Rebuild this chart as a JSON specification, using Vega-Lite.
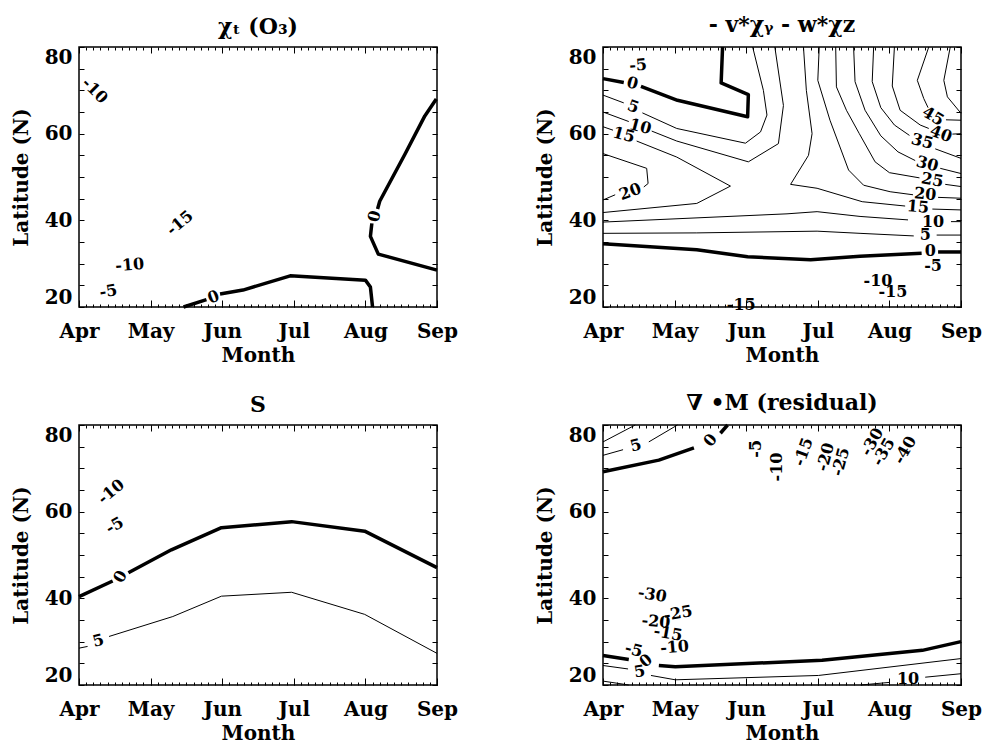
{
"$schema": "https://vega.github.io/schema/vega-lite/v6.json",
"background": "white",
"padding": {"left": 10, "top": 13, "right": 2, "bottom": 2},
"columns": 2,
"spacing": {"row": 25, "column": 75},
"datasets": {
"ln": [
{"p":1,"s":"a","v":0,"i":0,"m":5.46,"lat":20},{"p":1,"s":"a","v":0,"i":1,"m":5.78,"lat":21.7},
{"p":1,"s":"b","v":0,"i":0,"m":5.97,"lat":23.0},{"p":1,"s":"b","v":0,"i":1,"m":6.29,"lat":23.9},{"p":1,"s":"b","v":0,"i":2,"m":6.95,"lat":27.2},{"p":1,"s":"b","v":0,"i":3,"m":8.0,"lat":26.2},{"p":1,"s":"b","v":0,"i":4,"m":8.07,"lat":24.6},{"p":1,"s":"b","v":0,"i":5,"m":8.1,"lat":20},
{"p":1,"s":"c","v":0,"i":0,"m":8.99,"lat":68.0},{"p":1,"s":"c","v":0,"i":1,"m":8.83,"lat":64.1},{"p":1,"s":"c","v":0,"i":2,"m":8.55,"lat":55.2},{"p":1,"s":"c","v":0,"i":3,"m":8.2,"lat":44.4},{"p":1,"s":"c","v":0,"i":4,"m":8.17,"lat":42.6},
{"p":1,"s":"d","v":0,"i":0,"m":8.09,"lat":39.3},{"p":1,"s":"d","v":0,"i":1,"m":8.07,"lat":36.3},{"p":1,"s":"d","v":0,"i":2,"m":8.18,"lat":32.2},{"p":1,"s":"d","v":0,"i":3,"m":9.0,"lat":28.5},

{"p":2,"s":"a","v":0,"i":0,"m":4.0,"lat":72.7},{"p":2,"s":"a","v":0,"i":1,"m":4.29,"lat":71.8},
{"p":2,"s":"b","v":0,"i":0,"m":4.53,"lat":70.9},{"p":2,"s":"b","v":0,"i":1,"m":5.04,"lat":67.7},{"p":2,"s":"b","v":0,"i":2,"m":6.02,"lat":63.9},{"p":2,"s":"b","v":0,"i":3,"m":6.03,"lat":69.0},{"p":2,"s":"b","v":0,"i":4,"m":5.65,"lat":71.7},{"p":2,"s":"b","v":0,"i":5,"m":5.67,"lat":80},
{"p":2,"s":"c","v":0,"i":0,"m":4.0,"lat":34.6},{"p":2,"s":"c","v":0,"i":1,"m":5.31,"lat":33.2},{"p":2,"s":"c","v":0,"i":2,"m":6.02,"lat":31.6},{"p":2,"s":"c","v":0,"i":3,"m":6.9,"lat":30.9},{"p":2,"s":"c","v":0,"i":4,"m":7.59,"lat":31.7},{"p":2,"s":"c","v":0,"i":5,"m":8.45,"lat":32.4},
{"p":2,"s":"d","v":0,"i":0,"m":8.68,"lat":32.7},{"p":2,"s":"d","v":0,"i":1,"m":9.0,"lat":32.7},
{"p":2,"s":"e","v":5,"i":0,"m":4.0,"lat":68.9},{"p":2,"s":"e","v":5,"i":1,"m":4.29,"lat":67.1},
{"p":2,"s":"f","v":5,"i":0,"m":4.55,"lat":64.8},{"p":2,"s":"f","v":5,"i":1,"m":5.03,"lat":61.2},{"p":2,"s":"f","v":5,"i":2,"m":5.99,"lat":57.8},{"p":2,"s":"f","v":5,"i":3,"m":6.2,"lat":60.4},{"p":2,"s":"f","v":5,"i":4,"m":6.29,"lat":64.3},{"p":2,"s":"f","v":5,"i":5,"m":6.24,"lat":70.0},{"p":2,"s":"f","v":5,"i":6,"m":6.09,"lat":80},
{"p":2,"s":"g","v":10,"i":0,"m":4.0,"lat":65.0},{"p":2,"s":"g","v":10,"i":1,"m":4.36,"lat":62.8},
{"p":2,"s":"h","v":10,"i":0,"m":4.68,"lat":60.6},{"p":2,"s":"h","v":10,"i":1,"m":5.03,"lat":58.3},{"p":2,"s":"h","v":10,"i":2,"m":6.03,"lat":53.5},{"p":2,"s":"h","v":10,"i":3,"m":6.45,"lat":57.7},{"p":2,"s":"h","v":10,"i":4,"m":6.52,"lat":66.5},{"p":2,"s":"h","v":10,"i":5,"m":6.4,"lat":80},
{"p":2,"s":"i","v":15,"i":0,"m":4.0,"lat":61.6},{"p":2,"s":"i","v":15,"i":1,"m":4.14,"lat":60.8},
{"p":2,"s":"j","v":15,"i":0,"m":4.47,"lat":58.3},{"p":2,"s":"j","v":15,"i":1,"m":5.03,"lat":54.6},{"p":2,"s":"j","v":15,"i":2,"m":5.78,"lat":47.9},{"p":2,"s":"j","v":15,"i":3,"m":5.31,"lat":43.9},{"p":2,"s":"j","v":15,"i":4,"m":4.0,"lat":41.8},
{"p":2,"s":"k","v":20,"i":0,"m":4.0,"lat":55.4},{"p":2,"s":"k","v":20,"i":1,"m":4.61,"lat":52.0},{"p":2,"s":"k","v":20,"i":2,"m":4.63,"lat":48.5},{"p":2,"s":"k","v":20,"i":3,"m":4.57,"lat":47.7},
{"p":2,"s":"l","v":20,"i":0,"m":4.17,"lat":45.9},{"p":2,"s":"l","v":20,"i":1,"m":4.0,"lat":44.7},
{"p":2,"s":"m","v":15,"i":0,"m":6.8,"lat":80},{"p":2,"s":"m","v":15,"i":1,"m":6.84,"lat":70},{"p":2,"s":"m","v":15,"i":2,"m":6.92,"lat":60},{"p":2,"s":"m","v":15,"i":3,"m":6.87,"lat":55},{"p":2,"s":"m","v":15,"i":4,"m":6.62,"lat":48.3},{"p":2,"s":"m","v":15,"i":5,"m":6.99,"lat":47.4},{"p":2,"s":"m","v":15,"i":6,"m":7.62,"lat":44.3},{"p":2,"s":"m","v":15,"i":7,"m":8.22,"lat":43.3},
{"p":2,"s":"n","v":15,"i":0,"m":8.6,"lat":42.6},{"p":2,"s":"n","v":15,"i":1,"m":9.0,"lat":42.4},
{"p":2,"s":"o","v":20,"i":0,"m":7.02,"lat":80},{"p":2,"s":"o","v":20,"i":1,"m":7.0,"lat":72.3},{"p":2,"s":"o","v":20,"i":2,"m":7.17,"lat":63.1},{"p":2,"s":"o","v":20,"i":3,"m":7.43,"lat":51.6},{"p":2,"s":"o","v":20,"i":4,"m":7.64,"lat":48.1},{"p":2,"s":"o","v":20,"i":5,"m":8.01,"lat":46.6},{"p":2,"s":"o","v":20,"i":6,"m":8.33,"lat":45.9},
{"p":2,"s":"p","v":20,"i":0,"m":8.68,"lat":45.3},{"p":2,"s":"p","v":20,"i":1,"m":9.0,"lat":45.1},
{"p":2,"s":"q","v":25,"i":0,"m":7.25,"lat":80},{"p":2,"s":"q","v":25,"i":1,"m":7.26,"lat":70.8},{"p":2,"s":"q","v":25,"i":2,"m":7.4,"lat":65.4},{"p":2,"s":"q","v":25,"i":3,"m":7.58,"lat":60.0},{"p":2,"s":"q","v":25,"i":4,"m":7.8,"lat":53.5},{"p":2,"s":"q","v":25,"i":5,"m":8.0,"lat":51.0},{"p":2,"s":"q","v":25,"i":6,"m":8.42,"lat":49.8},
{"p":2,"s":"r","v":25,"i":0,"m":8.78,"lat":48.3},{"p":2,"s":"r","v":25,"i":1,"m":9.0,"lat":47.8},
{"p":2,"s":"s","v":30,"i":0,"m":7.5,"lat":80},{"p":2,"s":"s","v":30,"i":1,"m":7.52,"lat":72},{"p":2,"s":"s","v":30,"i":2,"m":7.66,"lat":65.4},{"p":2,"s":"s","v":30,"i":3,"m":7.88,"lat":59.5},{"p":2,"s":"s","v":30,"i":4,"m":8.12,"lat":55.8},{"p":2,"s":"s","v":30,"i":5,"m":8.36,"lat":53.8},
{"p":2,"s":"t","v":30,"i":0,"m":8.71,"lat":52.0},{"p":2,"s":"t","v":30,"i":1,"m":9.0,"lat":50.8},
{"p":2,"s":"u","v":35,"i":0,"m":7.78,"lat":80},{"p":2,"s":"u","v":35,"i":1,"m":7.76,"lat":72},{"p":2,"s":"u","v":35,"i":2,"m":7.88,"lat":66},{"p":2,"s":"u","v":35,"i":3,"m":8.07,"lat":62},{"p":2,"s":"u","v":35,"i":4,"m":8.28,"lat":59.6},
{"p":2,"s":"w","v":35,"i":0,"m":8.64,"lat":56.5},{"p":2,"s":"w","v":35,"i":1,"m":9.0,"lat":54.3},
{"p":2,"s":"x","v":40,"i":0,"m":8.07,"lat":80},{"p":2,"s":"x","v":40,"i":1,"m":8.04,"lat":71},{"p":2,"s":"x","v":40,"i":2,"m":8.15,"lat":65.4},{"p":2,"s":"x","v":40,"i":3,"m":8.43,"lat":62.0},{"p":2,"s":"x","v":40,"i":4,"m":8.55,"lat":61.2},
{"p":2,"s":"y","v":40,"i":0,"m":8.88,"lat":59.9},{"p":2,"s":"y","v":40,"i":1,"m":9.0,"lat":60.0},
{"p":2,"s":"z","v":45,"i":0,"m":8.55,"lat":80},{"p":2,"s":"z","v":45,"i":1,"m":8.39,"lat":72.3},{"p":2,"s":"z","v":45,"i":2,"m":8.48,"lat":68.1},{"p":2,"s":"z","v":45,"i":3,"m":8.54,"lat":66.0},
{"p":2,"s":"za","v":45,"i":0,"m":8.79,"lat":63.2},{"p":2,"s":"za","v":45,"i":1,"m":9.0,"lat":63.1},
{"p":2,"s":"zb","v":50,"i":0,"m":8.85,"lat":80},{"p":2,"s":"zb","v":50,"i":1,"m":8.76,"lat":72.3},{"p":2,"s":"zb","v":50,"i":2,"m":8.81,"lat":68.5},{"p":2,"s":"zb","v":50,"i":3,"m":9.0,"lat":64.7},
{"p":2,"s":"zc","v":10,"i":0,"m":4.0,"lat":39.6},{"p":2,"s":"zc","v":10,"i":1,"m":6.57,"lat":41.5},{"p":2,"s":"zc","v":10,"i":2,"m":6.99,"lat":42.0},{"p":2,"s":"zc","v":10,"i":3,"m":7.59,"lat":40.9},{"p":2,"s":"zc","v":10,"i":4,"m":8.26,"lat":40.1},
{"p":2,"s":"zd","v":10,"i":0,"m":8.86,"lat":39.7},{"p":2,"s":"zd","v":10,"i":1,"m":9.0,"lat":39.7},
{"p":2,"s":"ze","v":5,"i":0,"m":4.0,"lat":37.0},{"p":2,"s":"ze","v":5,"i":1,"m":5.31,"lat":37.1},{"p":2,"s":"ze","v":5,"i":2,"m":6.99,"lat":37.5},{"p":2,"s":"ze","v":5,"i":3,"m":7.59,"lat":37.0},{"p":2,"s":"ze","v":5,"i":4,"m":8.34,"lat":36.4},
{"p":2,"s":"zf","v":5,"i":0,"m":8.66,"lat":36.6},{"p":2,"s":"zf","v":5,"i":1,"m":9.0,"lat":36.6},

{"p":3,"s":"a","v":0,"i":0,"m":4.0,"lat":40.4},{"p":3,"s":"a","v":0,"i":1,"m":4.47,"lat":44.0},
{"p":3,"s":"b","v":0,"i":0,"m":4.69,"lat":45.9},{"p":3,"s":"b","v":0,"i":1,"m":5.29,"lat":51.2},{"p":3,"s":"b","v":0,"i":2,"m":5.99,"lat":56.3},{"p":3,"s":"b","v":0,"i":3,"m":6.97,"lat":57.7},{"p":3,"s":"b","v":0,"i":4,"m":7.99,"lat":55.5},{"p":3,"s":"b","v":0,"i":5,"m":9.0,"lat":47.1},
{"p":3,"s":"c","v":5,"i":0,"m":4.0,"lat":28.5},{"p":3,"s":"c","v":5,"i":1,"m":4.12,"lat":28.9},
{"p":3,"s":"d","v":5,"i":0,"m":4.42,"lat":31.2},{"p":3,"s":"d","v":5,"i":1,"m":5.31,"lat":35.8},{"p":3,"s":"d","v":5,"i":2,"m":5.99,"lat":40.5},{"p":3,"s":"d","v":5,"i":3,"m":6.97,"lat":41.4},{"p":3,"s":"d","v":5,"i":4,"m":7.99,"lat":36.3},{"p":3,"s":"d","v":5,"i":5,"m":9.0,"lat":27.3},

{"p":4,"s":"a","v":0,"i":0,"m":4.0,"lat":69.2},{"p":4,"s":"a","v":0,"i":1,"m":4.78,"lat":71.9},{"p":4,"s":"a","v":0,"i":2,"m":5.27,"lat":74.7},
{"p":4,"s":"b","v":0,"i":0,"m":5.64,"lat":78.1},{"p":4,"s":"b","v":0,"i":1,"m":5.74,"lat":80},
{"p":4,"s":"c","v":5,"i":0,"m":4.0,"lat":73.0},{"p":4,"s":"c","v":5,"i":1,"m":4.28,"lat":74.3},
{"p":4,"s":"d","v":5,"i":0,"m":4.64,"lat":76.1},{"p":4,"s":"d","v":5,"i":1,"m":5.04,"lat":80},
{"p":4,"s":"e","v":10,"i":0,"m":4.0,"lat":76.1},{"p":4,"s":"e","v":10,"i":1,"m":4.45,"lat":80},
{"p":4,"s":"f","v":0,"i":0,"m":4.0,"lat":26.8},{"p":4,"s":"f","v":0,"i":1,"m":4.36,"lat":25.9},
{"p":4,"s":"g","v":0,"i":0,"m":4.78,"lat":24.5},{"p":4,"s":"g","v":0,"i":1,"m":5.01,"lat":24.2},{"p":4,"s":"g","v":0,"i":2,"m":7.06,"lat":25.7},{"p":4,"s":"g","v":0,"i":3,"m":8.46,"lat":28.0},{"p":4,"s":"g","v":0,"i":4,"m":9.0,"lat":30.0},
{"p":4,"s":"h","v":5,"i":0,"m":4.0,"lat":24.5},{"p":4,"s":"h","v":5,"i":1,"m":4.35,"lat":23.7},
{"p":4,"s":"k","v":5,"i":0,"m":4.67,"lat":22.2},{"p":4,"s":"k","v":5,"i":1,"m":5.01,"lat":21.2},{"p":4,"s":"k","v":5,"i":2,"m":7.01,"lat":22.2},{"p":4,"s":"k","v":5,"i":3,"m":9.0,"lat":26.1},
{"p":4,"s":"l","v":10,"i":0,"m":4.0,"lat":20.9},{"p":4,"s":"l","v":10,"i":1,"m":4.36,"lat":20},
{"p":4,"s":"n","v":10,"i":0,"m":7.6,"lat":20},{"p":4,"s":"n","v":10,"i":1,"m":8.0,"lat":20.6},
{"p":4,"s":"o","v":10,"i":0,"m":8.5,"lat":21.8},{"p":4,"s":"o","v":10,"i":1,"m":9.0,"lat":22.6}
],
"lb": [
{"p":1,"t":"-10","m":4.22,"lat":69.9,"r":45},{"p":1,"t":"-15","m":5.41,"lat":39.4,"r":-40},{"p":1,"t":"-10","m":4.71,"lat":29.7,"r":-5},{"p":1,"t":"-5","m":4.41,"lat":23.6,"r":-10},{"p":1,"t":"0","m":5.88,"lat":22.3,"r":-20},{"p":1,"t":"0","m":8.13,"lat":40.9,"r":-75},
{"p":2,"t":"-5","m":4.49,"lat":75.8,"r":-5},{"p":2,"t":"0","m":4.41,"lat":71.6,"r":15},{"p":2,"t":"5","m":4.42,"lat":66.2,"r":20},{"p":2,"t":"10","m":4.52,"lat":61.6,"r":15},{"p":2,"t":"15","m":4.29,"lat":59.7,"r":15},{"p":2,"t":"20","m":4.38,"lat":46.6,"r":-20},
{"p":2,"t":"45","m":8.61,"lat":64.0,"r":30},{"p":2,"t":"40","m":8.72,"lat":59.9,"r":20},{"p":2,"t":"35","m":8.46,"lat":58.2,"r":15},{"p":2,"t":"30","m":8.53,"lat":53.0,"r":15},{"p":2,"t":"25","m":8.6,"lat":49.3,"r":10},{"p":2,"t":"20","m":8.5,"lat":46.0,"r":5},{"p":2,"t":"15","m":8.4,"lat":43.1,"r":5},{"p":2,"t":"10","m":8.61,"lat":39.7,"r":0},{"p":2,"t":"5","m":8.5,"lat":36.6,"r":0},{"p":2,"t":"0","m":8.57,"lat":33.0,"r":0},{"p":2,"t":"-5","m":8.61,"lat":29.4,"r":0},{"p":2,"t":"-10","m":7.84,"lat":25.9,"r":0},{"p":2,"t":"-15","m":8.05,"lat":23.4,"r":0},{"p":2,"t":"-15","m":5.93,"lat":20.5,"r":0},
{"p":3,"t":"-10","m":4.45,"lat":64.6,"r":-40},{"p":3,"t":"-5","m":4.5,"lat":56.8,"r":-30},{"p":3,"t":"0","m":4.58,"lat":45.0,"r":-60},{"p":3,"t":"5","m":4.27,"lat":30.2,"r":-15},
{"p":4,"t":"5","m":4.46,"lat":75.3,"r":-15},{"p":4,"t":"0","m":5.5,"lat":76.5,"r":-50},{"p":4,"t":"-5","m":6.13,"lat":74.5,"r":-90},{"p":4,"t":"-10","m":6.43,"lat":70.3,"r":-90},{"p":4,"t":"-15","m":6.8,"lat":73.8,"r":-70},{"p":4,"t":"-20","m":7.11,"lat":72.6,"r":-75},{"p":4,"t":"-25","m":7.32,"lat":71.5,"r":-75},{"p":4,"t":"-30","m":7.76,"lat":76.1,"r":-60},{"p":4,"t":"-35","m":7.92,"lat":73.8,"r":-60},{"p":4,"t":"-40","m":8.22,"lat":74.2,"r":-60},
{"p":4,"t":"-30","m":4.69,"lat":40.8,"r":10},{"p":4,"t":"-25","m":5.05,"lat":36.5,"r":-10},{"p":4,"t":"-20","m":4.74,"lat":34.6,"r":5},{"p":4,"t":"-15","m":4.91,"lat":31.9,"r":10},{"p":4,"t":"-10","m":5.0,"lat":28.7,"r":-5},{"p":4,"t":"-5","m":4.43,"lat":28.1,"r":15},{"p":4,"t":"0","m":4.6,"lat":25.6,"r":-40},{"p":4,"t":"5","m":4.51,"lat":23.1,"r":-10},{"p":4,"t":"10","m":8.26,"lat":21.5,"r":0}
]
},
"concat": [
{"title": "χₜ (O₃)", "width": 358, "height": 260,
 "layer": [
  {"data": {"name": "ln"}, "transform": [{"filter": "datum.p === 1"}],
   "mark": {"type": "line", "color": "black", "strokeJoin": "round"},
   "encoding": {
    "x": {"field": "m", "type": "quantitative", "scale": {"domain": [4, 9], "nice": false, "zero": false}, "axis": {"values": [4,5,6,7,8,9], "labelExpr": "['Apr','May','Jun','Jul','Aug','Sep'][round(datum.value)-4]", "labelFlush": false, "ticks": false, "labelPadding": 14, "title": "Month", "titlePadding": 4}},
    "y": {"field": "lat", "type": "quantitative", "scale": {"domain": [20, 80], "nice": false, "zero": false}, "axis": {"values": [20,40,60,80], "ticks": false, "labelPadding": 7, "labelFlush": true, "title": "Latitude (N)", "titlePadding": 13}},
    "detail": {"field": "s"}, "order": {"field": "i"},
    "strokeWidth": {"condition": {"test": "datum.v === 0", "value": 3.5}, "value": 1}}},
  {"data": {"name": "lb"}, "transform": [{"filter": "datum.p === 1"}],
   "mark": {"type": "text", "font": "DejaVu Serif", "fontWeight": "bold", "fontSize": 16, "color": "black"},
   "encoding": {
    "x": {"field": "m", "type": "quantitative", "scale": {"domain": [4, 9], "nice": false, "zero": false}, "axis": {"orient": "bottom", "values": [4,5,6,7,8,9], "labels": false, "tickSize": -7, "title": null}},
    "y": {"field": "lat", "type": "quantitative", "scale": {"domain": [20, 80], "nice": false, "zero": false}, "axis": {"orient": "left", "values": [20,25,30,35,40,45,50,55,60,65,70,75,80], "labels": false, "tickSize": -5, "title": null}},
    "text": {"field": "t"}, "angle": {"field": "r", "type": "quantitative", "scale": null}}},
  {"data": {"name": "lb"}, "transform": [{"filter": "datum.p === 1"}],
   "mark": {"type": "point", "opacity": 0},
   "encoding": {
    "x": {"field": "m", "type": "quantitative", "scale": {"domain": [4, 9], "nice": false, "zero": false}, "axis": {"orient": "top", "values": [4,4.1,4.2,4.3,4.4,4.5,4.6,4.7,4.8,4.9,5,5.1,5.2,5.3,5.4,5.5,5.6,5.7,5.8,5.9,6,6.1,6.2,6.3,6.4,6.5,6.6,6.7,6.8,6.9,7,7.1,7.2,7.3,7.4,7.5,7.6,7.7,7.8,7.9,8,8.1,8.2,8.3,8.4,8.5,8.6,8.7,8.8,8.9,9], "labels": false, "tickSize": -3, "title": null}},
    "y": {"field": "lat", "type": "quantitative", "scale": {"domain": [20, 80], "nice": false, "zero": false}, "axis": {"orient": "right", "values": [20,25,30,35,40,45,50,55,60,65,70,75,80], "labels": false, "tickSize": -5, "title": null}}}},
  {"data": {"name": "lb"}, "transform": [{"filter": "datum.p === 1"}],
   "mark": {"type": "point", "opacity": 0},
   "encoding": {
    "x": {"field": "m", "type": "quantitative", "scale": {"domain": [4, 9], "nice": false, "zero": false}, "axis": {"orient": "bottom", "values": [4,4.1,4.2,4.3,4.4,4.5,4.6,4.7,4.8,4.9,5,5.1,5.2,5.3,5.4,5.5,5.6,5.7,5.8,5.9,6,6.1,6.2,6.3,6.4,6.5,6.6,6.7,6.8,6.9,7,7.1,7.2,7.3,7.4,7.5,7.6,7.7,7.8,7.9,8,8.1,8.2,8.3,8.4,8.5,8.6,8.7,8.8,8.9,9], "labels": false, "tickSize": -3, "title": null}},
    "y": {"field": "lat", "type": "quantitative", "scale": {"domain": [20, 80], "nice": false, "zero": false}, "axis": null}}},
  {"data": {"name": "lb"}, "transform": [{"filter": "datum.p === 1"}],
   "mark": {"type": "point", "opacity": 0},
   "encoding": {
    "x": {"field": "m", "type": "quantitative", "scale": {"domain": [4, 9], "nice": false, "zero": false}, "axis": {"orient": "top", "values": [4,5,6,7,8,9], "labels": false, "tickSize": -6, "title": null}},
    "y": {"field": "lat", "type": "quantitative", "scale": {"domain": [20, 80], "nice": false, "zero": false}, "axis": null}}}
 ],
 "resolve": {"axis": {"x": "independent", "y": "independent"}}},
{"title": "- v*χᵧ - w*χz", "width": 358, "height": 260,
 "layer": [
  {"data": {"name": "ln"}, "transform": [{"filter": "datum.p === 2"}],
   "mark": {"type": "line", "color": "black", "strokeJoin": "round"},
   "encoding": {
    "x": {"field": "m", "type": "quantitative", "scale": {"domain": [4, 9], "nice": false, "zero": false}, "axis": {"values": [4,5,6,7,8,9], "labelExpr": "['Apr','May','Jun','Jul','Aug','Sep'][round(datum.value)-4]", "labelFlush": false, "ticks": false, "labelPadding": 14, "title": "Month", "titlePadding": 4}},
    "y": {"field": "lat", "type": "quantitative", "scale": {"domain": [20, 80], "nice": false, "zero": false}, "axis": {"values": [20,40,60,80], "ticks": false, "labelPadding": 7, "labelFlush": true, "title": "Latitude (N)", "titlePadding": 13}},
    "detail": {"field": "s"}, "order": {"field": "i"},
    "strokeWidth": {"condition": {"test": "datum.v === 0", "value": 3.5}, "value": 1}}},
  {"data": {"name": "lb"}, "transform": [{"filter": "datum.p === 2"}],
   "mark": {"type": "text", "font": "DejaVu Serif", "fontWeight": "bold", "fontSize": 16, "color": "black"},
   "encoding": {
    "x": {"field": "m", "type": "quantitative", "scale": {"domain": [4, 9], "nice": false, "zero": false}, "axis": {"orient": "bottom", "values": [4,5,6,7,8,9], "labels": false, "tickSize": -7, "title": null}},
    "y": {"field": "lat", "type": "quantitative", "scale": {"domain": [20, 80], "nice": false, "zero": false}, "axis": {"orient": "left", "values": [20,25,30,35,40,45,50,55,60,65,70,75,80], "labels": false, "tickSize": -5, "title": null}},
    "text": {"field": "t"}, "angle": {"field": "r", "type": "quantitative", "scale": null}}},
  {"data": {"name": "lb"}, "transform": [{"filter": "datum.p === 2"}],
   "mark": {"type": "point", "opacity": 0},
   "encoding": {
    "x": {"field": "m", "type": "quantitative", "scale": {"domain": [4, 9], "nice": false, "zero": false}, "axis": {"orient": "top", "values": [4,4.1,4.2,4.3,4.4,4.5,4.6,4.7,4.8,4.9,5,5.1,5.2,5.3,5.4,5.5,5.6,5.7,5.8,5.9,6,6.1,6.2,6.3,6.4,6.5,6.6,6.7,6.8,6.9,7,7.1,7.2,7.3,7.4,7.5,7.6,7.7,7.8,7.9,8,8.1,8.2,8.3,8.4,8.5,8.6,8.7,8.8,8.9,9], "labels": false, "tickSize": -3, "title": null}},
    "y": {"field": "lat", "type": "quantitative", "scale": {"domain": [20, 80], "nice": false, "zero": false}, "axis": {"orient": "right", "values": [20,25,30,35,40,45,50,55,60,65,70,75,80], "labels": false, "tickSize": -5, "title": null}}}},
  {"data": {"name": "lb"}, "transform": [{"filter": "datum.p === 2"}],
   "mark": {"type": "point", "opacity": 0},
   "encoding": {
    "x": {"field": "m", "type": "quantitative", "scale": {"domain": [4, 9], "nice": false, "zero": false}, "axis": {"orient": "bottom", "values": [4,4.1,4.2,4.3,4.4,4.5,4.6,4.7,4.8,4.9,5,5.1,5.2,5.3,5.4,5.5,5.6,5.7,5.8,5.9,6,6.1,6.2,6.3,6.4,6.5,6.6,6.7,6.8,6.9,7,7.1,7.2,7.3,7.4,7.5,7.6,7.7,7.8,7.9,8,8.1,8.2,8.3,8.4,8.5,8.6,8.7,8.8,8.9,9], "labels": false, "tickSize": -3, "title": null}},
    "y": {"field": "lat", "type": "quantitative", "scale": {"domain": [20, 80], "nice": false, "zero": false}, "axis": null}}},
  {"data": {"name": "lb"}, "transform": [{"filter": "datum.p === 2"}],
   "mark": {"type": "point", "opacity": 0},
   "encoding": {
    "x": {"field": "m", "type": "quantitative", "scale": {"domain": [4, 9], "nice": false, "zero": false}, "axis": {"orient": "top", "values": [4,5,6,7,8,9], "labels": false, "tickSize": -6, "title": null}},
    "y": {"field": "lat", "type": "quantitative", "scale": {"domain": [20, 80], "nice": false, "zero": false}, "axis": null}}}
 ],
 "resolve": {"axis": {"x": "independent", "y": "independent"}}},
{"title": "S", "width": 358, "height": 260,
 "layer": [
  {"data": {"name": "ln"}, "transform": [{"filter": "datum.p === 3"}],
   "mark": {"type": "line", "color": "black", "strokeJoin": "round"},
   "encoding": {
    "x": {"field": "m", "type": "quantitative", "scale": {"domain": [4, 9], "nice": false, "zero": false}, "axis": {"values": [4,5,6,7,8,9], "labelExpr": "['Apr','May','Jun','Jul','Aug','Sep'][round(datum.value)-4]", "labelFlush": false, "ticks": false, "labelPadding": 14, "title": "Month", "titlePadding": 4}},
    "y": {"field": "lat", "type": "quantitative", "scale": {"domain": [20, 80], "nice": false, "zero": false}, "axis": {"values": [20,40,60,80], "ticks": false, "labelPadding": 7, "labelFlush": true, "title": "Latitude (N)", "titlePadding": 13}},
    "detail": {"field": "s"}, "order": {"field": "i"},
    "strokeWidth": {"condition": {"test": "datum.v === 0", "value": 3.5}, "value": 1}}},
  {"data": {"name": "lb"}, "transform": [{"filter": "datum.p === 3"}],
   "mark": {"type": "text", "font": "DejaVu Serif", "fontWeight": "bold", "fontSize": 16, "color": "black"},
   "encoding": {
    "x": {"field": "m", "type": "quantitative", "scale": {"domain": [4, 9], "nice": false, "zero": false}, "axis": {"orient": "bottom", "values": [4,5,6,7,8,9], "labels": false, "tickSize": -7, "title": null}},
    "y": {"field": "lat", "type": "quantitative", "scale": {"domain": [20, 80], "nice": false, "zero": false}, "axis": {"orient": "left", "values": [20,25,30,35,40,45,50,55,60,65,70,75,80], "labels": false, "tickSize": -5, "title": null}},
    "text": {"field": "t"}, "angle": {"field": "r", "type": "quantitative", "scale": null}}},
  {"data": {"name": "lb"}, "transform": [{"filter": "datum.p === 3"}],
   "mark": {"type": "point", "opacity": 0},
   "encoding": {
    "x": {"field": "m", "type": "quantitative", "scale": {"domain": [4, 9], "nice": false, "zero": false}, "axis": {"orient": "top", "values": [4,4.1,4.2,4.3,4.4,4.5,4.6,4.7,4.8,4.9,5,5.1,5.2,5.3,5.4,5.5,5.6,5.7,5.8,5.9,6,6.1,6.2,6.3,6.4,6.5,6.6,6.7,6.8,6.9,7,7.1,7.2,7.3,7.4,7.5,7.6,7.7,7.8,7.9,8,8.1,8.2,8.3,8.4,8.5,8.6,8.7,8.8,8.9,9], "labels": false, "tickSize": -3, "title": null}},
    "y": {"field": "lat", "type": "quantitative", "scale": {"domain": [20, 80], "nice": false, "zero": false}, "axis": {"orient": "right", "values": [20,25,30,35,40,45,50,55,60,65,70,75,80], "labels": false, "tickSize": -5, "title": null}}}},
  {"data": {"name": "lb"}, "transform": [{"filter": "datum.p === 3"}],
   "mark": {"type": "point", "opacity": 0},
   "encoding": {
    "x": {"field": "m", "type": "quantitative", "scale": {"domain": [4, 9], "nice": false, "zero": false}, "axis": {"orient": "bottom", "values": [4,4.1,4.2,4.3,4.4,4.5,4.6,4.7,4.8,4.9,5,5.1,5.2,5.3,5.4,5.5,5.6,5.7,5.8,5.9,6,6.1,6.2,6.3,6.4,6.5,6.6,6.7,6.8,6.9,7,7.1,7.2,7.3,7.4,7.5,7.6,7.7,7.8,7.9,8,8.1,8.2,8.3,8.4,8.5,8.6,8.7,8.8,8.9,9], "labels": false, "tickSize": -3, "title": null}},
    "y": {"field": "lat", "type": "quantitative", "scale": {"domain": [20, 80], "nice": false, "zero": false}, "axis": null}}},
  {"data": {"name": "lb"}, "transform": [{"filter": "datum.p === 3"}],
   "mark": {"type": "point", "opacity": 0},
   "encoding": {
    "x": {"field": "m", "type": "quantitative", "scale": {"domain": [4, 9], "nice": false, "zero": false}, "axis": {"orient": "top", "values": [4,5,6,7,8,9], "labels": false, "tickSize": -6, "title": null}},
    "y": {"field": "lat", "type": "quantitative", "scale": {"domain": [20, 80], "nice": false, "zero": false}, "axis": null}}}
 ],
 "resolve": {"axis": {"x": "independent", "y": "independent"}}},
{"title": "∇ •M (residual)", "width": 358, "height": 260,
 "layer": [
  {"data": {"name": "ln"}, "transform": [{"filter": "datum.p === 4"}],
   "mark": {"type": "line", "color": "black", "strokeJoin": "round"},
   "encoding": {
    "x": {"field": "m", "type": "quantitative", "scale": {"domain": [4, 9], "nice": false, "zero": false}, "axis": {"values": [4,5,6,7,8,9], "labelExpr": "['Apr','May','Jun','Jul','Aug','Sep'][round(datum.value)-4]", "labelFlush": false, "ticks": false, "labelPadding": 14, "title": "Month", "titlePadding": 4}},
    "y": {"field": "lat", "type": "quantitative", "scale": {"domain": [20, 80], "nice": false, "zero": false}, "axis": {"values": [20,40,60,80], "ticks": false, "labelPadding": 7, "labelFlush": true, "title": "Latitude (N)", "titlePadding": 13}},
    "detail": {"field": "s"}, "order": {"field": "i"},
    "strokeWidth": {"condition": {"test": "datum.v === 0", "value": 3.5}, "value": 1}}},
  {"data": {"name": "lb"}, "transform": [{"filter": "datum.p === 4"}],
   "mark": {"type": "text", "font": "DejaVu Serif", "fontWeight": "bold", "fontSize": 16, "color": "black"},
   "encoding": {
    "x": {"field": "m", "type": "quantitative", "scale": {"domain": [4, 9], "nice": false, "zero": false}, "axis": {"orient": "bottom", "values": [4,5,6,7,8,9], "labels": false, "tickSize": -7, "title": null}},
    "y": {"field": "lat", "type": "quantitative", "scale": {"domain": [20, 80], "nice": false, "zero": false}, "axis": {"orient": "left", "values": [20,25,30,35,40,45,50,55,60,65,70,75,80], "labels": false, "tickSize": -5, "title": null}},
    "text": {"field": "t"}, "angle": {"field": "r", "type": "quantitative", "scale": null}}},
  {"data": {"name": "lb"}, "transform": [{"filter": "datum.p === 4"}],
   "mark": {"type": "point", "opacity": 0},
   "encoding": {
    "x": {"field": "m", "type": "quantitative", "scale": {"domain": [4, 9], "nice": false, "zero": false}, "axis": {"orient": "top", "values": [4,4.1,4.2,4.3,4.4,4.5,4.6,4.7,4.8,4.9,5,5.1,5.2,5.3,5.4,5.5,5.6,5.7,5.8,5.9,6,6.1,6.2,6.3,6.4,6.5,6.6,6.7,6.8,6.9,7,7.1,7.2,7.3,7.4,7.5,7.6,7.7,7.8,7.9,8,8.1,8.2,8.3,8.4,8.5,8.6,8.7,8.8,8.9,9], "labels": false, "tickSize": -3, "title": null}},
    "y": {"field": "lat", "type": "quantitative", "scale": {"domain": [20, 80], "nice": false, "zero": false}, "axis": {"orient": "right", "values": [20,25,30,35,40,45,50,55,60,65,70,75,80], "labels": false, "tickSize": -5, "title": null}}}},
  {"data": {"name": "lb"}, "transform": [{"filter": "datum.p === 4"}],
   "mark": {"type": "point", "opacity": 0},
   "encoding": {
    "x": {"field": "m", "type": "quantitative", "scale": {"domain": [4, 9], "nice": false, "zero": false}, "axis": {"orient": "bottom", "values": [4,4.1,4.2,4.3,4.4,4.5,4.6,4.7,4.8,4.9,5,5.1,5.2,5.3,5.4,5.5,5.6,5.7,5.8,5.9,6,6.1,6.2,6.3,6.4,6.5,6.6,6.7,6.8,6.9,7,7.1,7.2,7.3,7.4,7.5,7.6,7.7,7.8,7.9,8,8.1,8.2,8.3,8.4,8.5,8.6,8.7,8.8,8.9,9], "labels": false, "tickSize": -3, "title": null}},
    "y": {"field": "lat", "type": "quantitative", "scale": {"domain": [20, 80], "nice": false, "zero": false}, "axis": null}}},
  {"data": {"name": "lb"}, "transform": [{"filter": "datum.p === 4"}],
   "mark": {"type": "point", "opacity": 0},
   "encoding": {
    "x": {"field": "m", "type": "quantitative", "scale": {"domain": [4, 9], "nice": false, "zero": false}, "axis": {"orient": "top", "values": [4,5,6,7,8,9], "labels": false, "tickSize": -6, "title": null}},
    "y": {"field": "lat", "type": "quantitative", "scale": {"domain": [20, 80], "nice": false, "zero": false}, "axis": null}}}
 ],
 "resolve": {"axis": {"x": "independent", "y": "independent"}}}
],
"config": {
 "font": "DejaVu Serif",
 "view": {"stroke": "black", "strokeWidth": 1.5},
 "axis": {"labelFont": "DejaVu Serif", "labelFontWeight": "bold", "labelFontSize": 20, "labelColor": "black", "titleFont": "DejaVu Serif", "titleFontWeight": "bold", "titleFontSize": 20, "titleColor": "black", "domain": false, "grid": false, "tickColor": "black", "tickWidth": 1},
 "title": {"font": "DejaVu Serif", "fontWeight": "bold", "fontSize": 22, "color": "black", "frame": "group", "offset": 8}
}
}
